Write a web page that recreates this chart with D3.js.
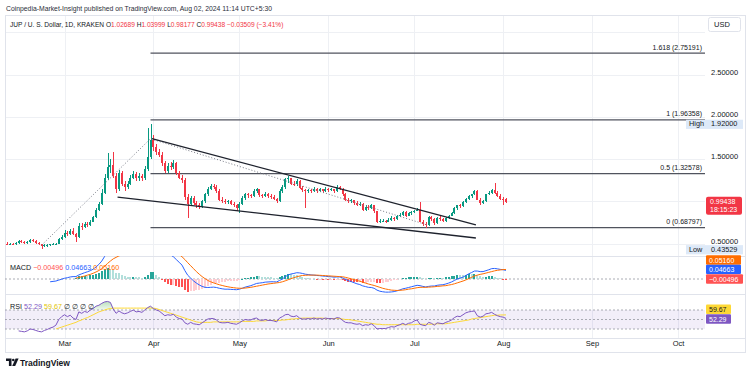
<!DOCTYPE html>
<html>
<head>
<meta charset="utf-8">
<title>JUP / U.S. Dollar</title>
<script src="https://cdn.jsdelivr.net/npm/d3@7"></script>
<style>
  body { margin: 0; background: #fff; }
  svg { display: block; font-family: "Liberation Sans", Arial, sans-serif; }
</style>
</head>
<body>
<script>
// JUP / U.S. Dollar, 1D, Kraken (Feb 10 .. Aug 02 2024)
var firstDay = "2024-02-10";
var lastDay = "2024-08-02";

var opens = [
  0.50,0.49,0.50,0.49,0.51,0.53,0.52,0.51,0.52,0.54,
  0.53,0.51,0.49,0.47,0.48,0.48,0.49,0.50,0.50,0.55,
  0.58,0.63,0.61,0.65,0.61,0.58,0.71,0.69,0.73,0.72,
  0.76,0.81,0.90,0.97,1.10,1.28,1.40,1.43,1.30,1.14,
  1.33,1.21,1.17,1.21,1.28,1.32,1.27,1.30,1.27,1.38,
  1.52,1.73,1.64,1.58,1.55,1.45,1.36,1.42,1.40,1.45,
  1.33,1.28,1.25,1.05,0.97,1.04,0.98,0.95,0.94,1.00,
  1.08,1.15,1.18,1.17,1.12,1.02,1.00,0.99,1.00,0.97,
  0.95,0.92,0.97,1.04,1.08,1.07,1.06,1.12,1.14,1.07,
  1.06,1.09,1.06,1.05,1.03,1.00,1.12,1.17,1.26,1.27,
  1.21,1.20,1.24,1.16,1.13,1.12,1.13,1.12,1.15,1.12,
  1.14,1.12,1.15,1.13,1.14,1.12,1.17,1.15,1.08,1.02,
  1.00,1.01,0.98,0.96,0.97,0.90,0.93,0.92,0.95,0.88,
  0.76,0.77,0.77,0.76,0.78,0.80,0.79,0.82,0.84,0.87,
  0.83,0.86,0.87,0.89,0.90,0.76,0.73,0.72,0.81,0.79,
  0.74,0.80,0.79,0.77,0.80,0.83,0.86,0.92,0.95,0.94,
  0.99,1.03,1.06,1.08,1.12,1.02,0.98,1.00,1.08,1.10,
  1.13,1.10,1.06,1.03,1.02689
];
var highs = [
  0.52,0.51,0.51,0.52,0.54,0.54,0.53,0.53,0.55,0.55,
  0.54,0.52,0.50,0.49,0.49,0.50,0.51,0.51,0.56,0.60,
  0.66,0.65,0.67,0.68,0.63,0.74,0.74,0.75,0.76,0.78,
  0.83,0.92,0.99,1.14,1.32,1.57,1.50,1.58,1.33,1.37,
  1.36,1.24,1.24,1.31,1.36,1.35,1.33,1.32,1.42,1.87,
  1.92,1.78,1.68,1.62,1.58,1.48,1.45,1.46,1.49,1.47,
  1.36,1.31,1.27,1.08,1.06,1.06,1.00,0.98,1.02,1.10,
  1.17,1.20,1.20,1.19,1.14,1.05,1.03,1.02,1.01,0.99,
  0.97,0.99,1.06,1.10,1.10,1.09,1.14,1.16,1.15,1.09,
  1.11,1.10,1.08,1.07,1.04,1.14,1.19,1.28,1.30,1.28,
  1.24,1.26,1.25,1.18,1.15,1.15,1.15,1.17,1.16,1.16,
  1.15,1.17,1.16,1.16,1.15,1.19,1.18,1.16,1.10,1.04,
  1.03,1.02,1.00,0.99,0.98,0.95,0.95,0.97,0.96,0.89,
  0.79,0.79,0.78,0.80,0.82,0.81,0.84,0.86,0.89,0.88,
  0.87,0.88,0.90,0.92,0.99,0.78,0.75,0.83,0.83,0.80,
  0.81,0.82,0.80,0.81,0.84,0.87,0.93,0.96,0.97,1.00,
  1.04,1.07,1.09,1.13,1.13,1.04,1.02,1.09,1.12,1.15,
  1.22,1.12,1.08,1.05,1.03999
];
var lows = [
  0.48,0.48,0.48,0.48,0.50,0.51,0.50,0.50,0.51,0.52,
  0.50,0.48,0.43529,0.46,0.46,0.47,0.48,0.48,0.49,0.54,
  0.57,0.59,0.60,0.60,0.52,0.57,0.66,0.68,0.70,0.71,
  0.75,0.80,0.88,0.95,1.08,1.25,1.33,1.27,1.10,1.12,
  1.18,1.12,1.15,1.19,1.26,1.24,1.24,1.24,1.25,1.36,
  1.50,1.60,1.55,1.52,1.42,1.33,1.34,1.37,1.38,1.31,
  1.26,1.22,1.02,0.80,0.94,0.96,0.92,0.91,0.92,0.98,
  1.06,1.13,1.14,1.10,1.00,0.98,0.97,0.97,0.95,0.93,
  0.89,0.86,0.95,1.02,1.04,1.04,1.05,1.10,1.05,1.04,
  1.05,1.04,1.03,1.01,0.98,0.99,1.10,1.15,1.22,1.19,
  1.18,1.18,1.14,1.11,0.92,1.10,1.10,1.11,1.10,1.11,
  1.10,1.11,1.11,1.12,1.10,1.11,1.13,1.06,1.00,0.98,
  0.98,0.96,0.94,0.94,0.88,0.89,0.90,0.91,0.86,0.74,
  0.74,0.75,0.74,0.75,0.77,0.77,0.78,0.81,0.83,0.81,
  0.82,0.84,0.86,0.88,0.75,0.71,0.68,0.71,0.77,0.72,
  0.73,0.77,0.75,0.76,0.79,0.82,0.85,0.90,0.92,0.93,
  0.98,1.02,1.04,1.07,1.01,0.96,0.97,0.99,1.07,1.09,
  1.09,1.05,1.02,0.95,0.98177
];
var closes = [
  0.49,0.50,0.49,0.51,0.53,0.52,0.51,0.52,0.54,0.53,
  0.51,0.49,0.47,0.48,0.48,0.49,0.50,0.50,0.55,0.58,
  0.63,0.61,0.65,0.61,0.58,0.71,0.69,0.73,0.72,0.76,
  0.81,0.90,0.97,1.10,1.28,1.40,1.43,1.30,1.14,1.33,
  1.21,1.17,1.21,1.28,1.32,1.27,1.30,1.27,1.38,1.52,
  1.73,1.64,1.58,1.55,1.45,1.36,1.42,1.40,1.45,1.33,
  1.28,1.25,1.05,0.97,1.04,0.98,0.95,0.94,1.00,1.08,
  1.15,1.18,1.17,1.12,1.02,1.00,0.99,1.00,0.97,0.95,
  0.92,0.97,1.04,1.08,1.07,1.06,1.12,1.14,1.07,1.06,
  1.09,1.06,1.05,1.03,1.00,1.12,1.17,1.26,1.27,1.21,
  1.20,1.24,1.16,1.13,1.12,1.13,1.12,1.15,1.12,1.14,
  1.12,1.15,1.13,1.14,1.12,1.17,1.15,1.08,1.02,1.00,
  1.01,0.98,0.96,0.97,0.90,0.93,0.92,0.95,0.88,0.76,
  0.77,0.77,0.76,0.78,0.80,0.79,0.82,0.84,0.87,0.83,
  0.86,0.87,0.89,0.90,0.76,0.73,0.72,0.81,0.79,0.74,
  0.80,0.79,0.77,0.80,0.83,0.86,0.92,0.95,0.94,0.99,
  1.03,1.06,1.08,1.12,1.02,0.98,1.00,1.08,1.10,1.13,
  1.10,1.06,1.03,1.02689,0.99438
];

// MACD (12, 26, 9) - one value per candle, null where the study has no value yet
var macdLine = [
  null,null,null,null,null,null,null,null,null,null,
  null,null,null,null,null,-0.015,-0.013,-0.011,-0.006,-0.001,
  0.004,0.007,0.011,0.013,0.013,0.022,0.028,0.034,0.039,0.045,
  0.053,0.065,0.079,0.097,0.122,0.146,0.15,0.155,0.15,0.155,
  0.152,0.148,0.147,0.15,0.155,0.155,0.157,0.156,0.165,0.18,
  0.205,0.215,0.205,0.195,0.18,0.165,0.15,0.13,0.12,0.105,
  0.09,0.075,0.045,0.02,0.005,-0.01,-0.022,-0.032,-0.04,-0.045,
  -0.046,-0.045,-0.044,-0.046,-0.05,-0.053,-0.055,-0.055,-0.056,-0.057,
  -0.058,-0.055,-0.05,-0.044,-0.04,-0.036,-0.03,-0.024,-0.022,-0.02,
  -0.017,-0.016,-0.015,-0.015,-0.016,-0.008,0.0,0.012,0.022,0.027,
  0.03,0.034,0.033,0.03,0.026,0.024,0.022,0.021,0.019,0.018,
  0.016,0.015,0.013,0.012,0.01,0.011,0.011,0.006,-0.002,-0.009,
  -0.014,-0.02,-0.026,-0.03,-0.037,-0.041,-0.045,-0.046,-0.05,-0.06,
  -0.066,-0.069,-0.071,-0.071,-0.07,-0.068,-0.064,-0.059,-0.053,-0.05,
  -0.046,-0.042,-0.038,-0.034,-0.036,-0.04,-0.043,-0.04,-0.038,-0.038,
  -0.034,-0.032,-0.031,-0.027,-0.022,-0.016,-0.008,0.0,0.005,0.01,
  0.019,0.028,0.035,0.043,0.043,0.04,0.04,0.045,0.05,0.056,
  0.057,0.055,0.052,0.05,0.04663
];
var signalLine = [
  null,null,null,null,null,null,null,null,null,null,
  null,null,null,null,null,null,null,null,null,null,
  null,null,null,null,0.005,0.008,0.012,0.016,0.021,0.025,
  0.031,0.038,0.046,0.056,0.069,0.084,0.097,0.109,0.117,0.125,
  0.13,0.134,0.136,0.139,0.142,0.145,0.147,0.149,0.152,0.158,
  0.168,0.177,0.183,0.185,0.184,0.18,0.175,0.165,0.155,0.145,
  0.132,0.12,0.105,0.088,0.072,0.056,0.04,0.026,0.013,0.002,
  -0.008,-0.015,-0.021,-0.026,-0.031,-0.035,-0.039,-0.042,-0.045,-0.047,
  -0.049,-0.05,-0.05,-0.049,-0.047,-0.045,-0.042,-0.039,-0.036,-0.033,
  -0.03,-0.027,-0.025,-0.023,-0.021,-0.019,-0.015,-0.01,-0.004,0.002,
  0.007,0.012,0.016,0.019,0.02,0.021,0.021,0.021,0.021,0.02,
  0.019,0.018,0.017,0.016,0.015,0.014,0.013,0.012,0.009,0.005,
  0.001,-0.003,-0.008,-0.012,-0.017,-0.022,-0.027,-0.031,-0.035,-0.04,
  -0.045,-0.05,-0.054,-0.057,-0.06,-0.061,-0.062,-0.061,-0.06,-0.058,
  -0.055,-0.053,-0.05,-0.047,-0.045,-0.045,-0.045,-0.044,-0.043,-0.042,
  -0.04,-0.039,-0.037,-0.036,-0.033,-0.03,-0.026,-0.021,-0.016,-0.011,
  -0.005,0.002,0.009,0.016,0.021,0.025,0.028,0.032,0.036,0.04,
  0.044,0.047,0.049,0.051,0.0516
];
var macdHist = [
  null,null,null,null,null,null,null,null,null,null,
  null,null,null,null,null,null,null,null,null,null,
  null,null,null,null,0.008,0.014,0.016,0.018,0.018,0.020,
  0.022,0.027,0.033,0.041,0.053,0.062,0.053,0.046,0.033,0.030,
  0.022,0.014,0.011,0.011,0.013,0.010,0.010,0.007,0.013,0.022,
  0.037,0.038,0.022,0.010,-0.004,-0.015,-0.025,-0.035,-0.035,-0.040,
  -0.042,-0.045,-0.060,-0.068,-0.067,-0.066,-0.062,-0.058,-0.053,-0.047,
  -0.038,-0.030,-0.023,-0.020,-0.019,-0.018,-0.016,-0.013,-0.011,-0.010,
  -0.009,-0.005,0.000,0.005,0.007,0.009,0.012,0.015,0.014,0.013,
  0.013,0.011,0.010,0.008,0.005,0.011,0.015,0.022,0.026,0.025,
  0.023,0.022,0.017,0.011,0.006,0.003,0.001,0.000,-0.002,-0.002,
  -0.003,-0.003,-0.004,-0.004,-0.005,-0.003,-0.002,-0.006,-0.011,-0.014,
  -0.015,-0.017,-0.018,-0.018,-0.020,-0.019,-0.018,-0.015,-0.015,-0.020,
  -0.021,-0.019,-0.017,-0.014,-0.010,-0.007,-0.002,0.002,0.007,0.008,
  0.009,0.011,0.012,0.013,0.009,0.005,0.002,0.004,0.005,0.004,
  0.006,0.007,0.006,0.009,0.011,0.014,0.018,0.021,0.021,0.021,
  0.024,0.026,0.026,0.027,0.022,0.015,0.012,0.013,0.014,0.016,
  0.013,0.008,0.003,-0.001,-0.00496
];

// RSI (14) and its moving average
var rsiLine = [
  null,null,null,null,26,25,24,26,30,29,
  27,25,24,27,29,32,34,38,50,56,
  60,56,59,53,50,66,63,67,65,70,
  73,78,80,84,87,88,86,72,63,68,
  64,62,64,67,70,66,67,65,70,75,
  78,73,70,68,63,58,60,59,61,55,
  52,51,43,40,44,41,40,39,43,47,
  51,52,52,49,44,43,43,44,42,41,
  40,43,47,50,49,49,52,53,49,48,
  50,48,48,47,45,53,56,60,61,57,
  56,58,53,51,51,52,51,53,51,52,
  51,53,52,52,51,54,53,48,44,43,
  43,41,40,41,37,39,38,41,37,30,
  31,31,31,33,35,34,37,39,42,39,
  42,43,47,49,40,38,37,44,42,38,
  43,42,41,44,46,49,54,57,56,60,
  64,66,67,68,58,55,57,62,63,65,
  61,58,56,55,52.29
];
var rsiMa = [
  null,null,null,null,null,null,null,null,null,null,
  null,null,null,null,null,null,null,30,32,34,
  36,38,40,42,44,47,49,52,54,57,
  60,63,66,68,70,72,73,74,74,74,
  74,74,74,74,74,74,74,74,74,74,
  74,74,73,71,69,67,65,63,61,59,
  57,55,53,51,49,47,45,44,44,44,
  44,44,45,45,45,45,45,45,45,45,
  45,45,46,46,46,46,46,47,47,47,
  47,48,48,48,48,48,49,49,50,51,
  51,52,52,53,53,53,53,53,53,53,
  53,52,52,52,52,52,52,51,50,50,
  49,48,47,46,45,44,43,42,41,40,
  40,39,39,39,39,39,39,39,39,39,
  39,39,39,40,40,40,40,40,40,40,
  41,41,41,41,42,43,44,45,46,47,
  48,49,51,52,53,54,55,56,57,58,
  59,59,59.5,59.6,59.67
];

// axes (1.00000 sits under the last-price tag, so it is not labelled)
var monthTicks = ["2024-03-01","2024-04-01","2024-05-01","2024-06-01","2024-07-01","2024-08-01","2024-09-01","2024-10-01"];
var priceTicks = [0.5, 1.5, 2.0, 2.5];
var priceGrid = [0.5, 1.0, 1.5, 2.0, 2.5, 3.0];

// drawings on the chart
var fibRatios = ["0", "0.5", "1", "1.618"];
var fibPrices = [0.68797, 1.32578, 1.96358, 2.75191];
var fibStart = "2024-03-31T00:00:00Z";
var wedgeUpper = [["2024-03-31T12:00:00Z", 1.74], ["2024-07-22T12:00:00Z", 0.72]];
var wedgeLower = [["2024-03-19T12:00:00Z", 1.05], ["2024-07-22T12:00:00Z", 0.565]];
var fibTrend = [["2024-02-22T00:00:00Z", 0.48], ["2024-03-31T00:00:00Z", 1.74], ["2024-07-05T12:00:00Z", 0.72]];

// layout
var W = 750, H = 372;
var left = 5, right = 705, edge = 745;
var mainTop = 15, mainBottom = 256, macdBottom = 294, rsiBottom = 338, axisBottom = 352;
var up = "#089981", down = "#f23645", ink = "#131722";

var parse = d3.utcParse("%Y-%m-%d");
var days = d3.utcDay.range(parse(firstDay), d3.utcDay.offset(parse(lastDay), 1));

var x = d3.scaleUtc().domain([parse("2024-03-01"), parse("2024-10-01")]).range([64.5, 678]);
var y = d3.scaleLinear().domain([0.5, 2.5]).range([243.5, 74.5]);
var yMacd = d3.scaleLinear().domain([0, 0.1]).range([279, 260.5]);
var yRsi = d3.scaleLinear().domain([30, 70]).range([329, 310]);

var candles = days.map(function(d, i) {
  return {date: d, o: opens[i], h: highs[i], l: lows[i], c: closes[i]};
});
function series(arr) {
  return days.map(function(d, i) { return {date: d, v: arr[i] == null ? null : arr[i]}; });
}

var svg = d3.select("body").append("svg").attr("width", W).attr("height", H);
var defs = svg.append("defs");
function clip(id, y0, y1) {
  defs.append("clipPath").attr("id", id).append("rect")
    .attr("x", left).attr("y", y0).attr("width", right - left).attr("height", y1 - y0);
}
clip("clipMain", mainTop, mainBottom);
clip("clipMacd", mainBottom, macdBottom);
clip("clipRsi", macdBottom, rsiBottom);

var grad = defs.append("linearGradient").attr("id", "obFill")
  .attr("gradientUnits", "userSpaceOnUse").attr("x1", 0).attr("x2", 0)
  .attr("y1", macdBottom).attr("y2", yRsi(70));
grad.append("stop").attr("offset", 0).attr("stop-color", "#4caf50").attr("stop-opacity", 0.65);
grad.append("stop").attr("offset", 1).attr("stop-color", "#4caf50").attr("stop-opacity", 0.08);

// grid
var grid = svg.append("g").attr("stroke", "#eef0f4").attr("shape-rendering", "crispEdges");
grid.selectAll(".vg").data(monthTicks.map(parse)).enter().append("line")
  .attr("x1", function(d) { return Math.round(x(d)) + 0.5; })
  .attr("x2", function(d) { return Math.round(x(d)) + 0.5; })
  .attr("y1", mainTop).attr("y2", rsiBottom);
grid.selectAll(".hg").data(priceGrid).enter().append("line")
  .attr("x1", left).attr("x2", right)
  .attr("y1", function(d) { return Math.round(y(d)) + 0.5; })
  .attr("y2", function(d) { return Math.round(y(d)) + 0.5; });

// frame and pane separators
var frame = svg.append("g").attr("stroke", "#e0e3eb").attr("fill", "none").attr("shape-rendering", "crispEdges");
frame.append("rect").attr("x", left + 0.5).attr("y", mainTop + 0.5)
  .attr("width", edge - left).attr("height", axisBottom - mainTop);
[mainBottom, macdBottom, rsiBottom].forEach(function(v) {
  frame.append("line").attr("x1", left).attr("x2", edge).attr("y1", v + 0.5).attr("y2", v + 0.5);
});

// fib retracement levels
var fib = svg.append("g");
fib.selectAll("line").data(fibPrices).enter().append("line")
  .attr("x1", x(d3.isoParse(fibStart))).attr("x2", right)
  .attr("y1", function(d) { return y(d); }).attr("y2", function(d) { return y(d); })
  .attr("stroke", "#50535e").attr("stroke-width", 1.3);
fib.selectAll("text").data(fibPrices).enter().append("text")
  .attr("x", right - 3).attr("y", function(d) { return y(d) - 3.5; })
  .attr("text-anchor", "end").attr("font-size", 7).attr("fill", ink)
  .text(function(d, i) { return fibRatios[i] + " (" + d.toFixed(5) + ")"; });

// candles
var gc = svg.append("g").attr("clip-path", "url(#clipMain)").attr("shape-rendering", "crispEdges");
var candle = gc.selectAll("g").data(candles).enter().append("g")
  .attr("fill", function(d) { return d.c >= d.o ? up : down; });
candle.append("rect")
  .attr("x", function(d) { return Math.round(x(d.date)) - 0.5; })
  .attr("width", 1)
  .attr("y", function(d) { return y(d.h); })
  .attr("height", function(d) { return y(d.l) - y(d.h); });
candle.append("rect")
  .attr("x", function(d) { return Math.round(x(d.date)) - 1; })
  .attr("width", 2)
  .attr("y", function(d) { return y(Math.max(d.o, d.c)); })
  .attr("height", function(d) { return Math.max(1, Math.abs(y(d.o) - y(d.c))); });

// trend lines
var pline = d3.line()
  .x(function(d) { return x(d3.isoParse(d[0])); })
  .y(function(d) { return y(d[1]); });
var gl = svg.append("g").attr("clip-path", "url(#clipMain)").attr("fill", "none");
gl.append("path").attr("d", pline(fibTrend))
  .attr("stroke", "#787b86").attr("stroke-width", 1).attr("stroke-dasharray", "1,2");
[wedgeUpper, wedgeLower].forEach(function(seg) {
  gl.append("path").attr("d", pline(seg)).attr("stroke", "#1e222d").attr("stroke-width", 1.3);
});

// header
svg.append("text").attr("x", 6).attr("y", 10.5).attr("font-size", 7).attr("fill", "#2a2e39")
  .attr("textLength", 266).attr("lengthAdjust", "spacingAndGlyphs")
  .text("Coinpedia-Market-Insight published on TradingView.com, Aug 02, 2024 11:14 UTC+5:30");
var legend = svg.append("text").attr("x", 10).attr("y", 27).attr("font-size", 6.6).attr("fill", ink);
legend.append("tspan").text("JUP / U. S. Dollar, 1D, KRAKEN  O");
legend.append("tspan").attr("fill", down).text("1.02689");
legend.append("tspan").text(" H");
legend.append("tspan").attr("fill", down).text("1.03999");
legend.append("tspan").text(" L");
legend.append("tspan").attr("fill", down).text("0.98177");
legend.append("tspan").text(" C");
legend.append("tspan").attr("fill", down).text("0.99438 \u22120.03509 (\u22123.41%)");

// price axis
var yAxis = d3.axisRight(y).tickValues(priceTicks).tickSize(0).tickPadding(6)
  .tickFormat(d3.format(".5f"));
var ga = svg.append("g").attr("transform", "translate(" + right + ",-2.5)").call(yAxis);
ga.attr("font-size", 7.5).attr("font-family", null);
ga.select(".domain").remove();
ga.selectAll("text").attr("fill", ink);

// USD button
svg.append("rect").attr("x", 708.5).attr("y", 17.5).attr("width", 32).attr("height", 14).attr("rx", 2)
  .attr("fill", "#fff").attr("stroke", "#e0e3eb");
svg.append("text").attr("x", 714).attr("y", 27).attr("font-size", 7.5).attr("fill", ink).text("USD");

// High / Low markers
function hiLo(label, value) {
  var cy = y(value);
  svg.append("rect").attr("x", 686).attr("y", cy - 3.8).attr("width", 57).attr("height", 9.2)
    .attr("fill", "#dde9f8");
  svg.append("text").attr("x", 689).attr("y", cy + 2.8).attr("font-size", 7.3).attr("fill", ink).text(label);
  svg.append("text").attr("x", 711).attr("y", cy + 2.8).attr("font-size", 7.3).attr("fill", ink)
    .text(d3.format(".5f")(value));
}
hiLo("High", d3.max(highs));
hiLo("Low", d3.min(lows));

// last price box
var last = closes[closes.length - 1];
svg.append("rect").attr("x", 706).attr("y", y(last) - 5).attr("width", 36).attr("height", 18).attr("rx", 2)
  .attr("fill", down);
svg.append("text").attr("x", 710).attr("y", y(last) + 2.5).attr("font-size", 7).attr("fill", "#fff")
  .text(d3.format(".5f")(last));
svg.append("text").attr("x", 710).attr("y", y(last) + 10.5).attr("font-size", 7).attr("fill", "#fff")
  .text("18:15:23");

// MACD pane
var gm = svg.append("g").attr("clip-path", "url(#clipMacd)");
gm.append("line").attr("x1", left).attr("x2", right).attr("y1", yMacd(0)).attr("y2", yMacd(0))
  .attr("stroke", "#9598a1").attr("stroke-dasharray", "2,2").attr("stroke-width", 0.8);
var hist = series(macdHist);
gm.append("g").attr("shape-rendering", "crispEdges").selectAll("rect")
  .data(hist.filter(function(d) { return d.v != null; })).enter().append("rect")
  .attr("x", function(d) { return Math.round(x(d.date)) - 1; })
  .attr("width", 2)
  .attr("y", function(d) { return Math.min(yMacd(d.v), yMacd(0)); })
  .attr("height", function(d) { return Math.max(0.5, Math.abs(yMacd(d.v) - yMacd(0))); })
  .attr("fill", function(d) {
    var i = days.indexOf(d.date), prev = i > 0 ? macdHist[i - 1] : null;
    if (d.v >= 0) return (prev == null || d.v > prev) ? "#26a69a" : "#b2dfdb";
    return (prev == null || d.v < prev) ? "#ff5252" : "#ffcdd2";
  });
var lm = d3.line().defined(function(d) { return d.v != null; })
  .x(function(d) { return x(d.date); }).y(function(d) { return yMacd(d.v); });
gm.append("path").attr("d", lm(series(macdLine))).attr("fill", "none").attr("stroke", "#2962ff").attr("stroke-width", 1);
gm.append("path").attr("d", lm(series(signalLine))).attr("fill", "none").attr("stroke", "#ff6d00").attr("stroke-width", 1);

var ml = svg.append("text").attr("x", 10).attr("y", 269.5).attr("font-size", 7.2).attr("fill", ink);
ml.append("tspan").text("MACD  ");
ml.append("tspan").attr("fill", "#ff5252").text("\u2212" + Math.abs(macdHist[macdHist.length - 1]).toFixed(5) + "  ");
ml.append("tspan").attr("fill", "#2962ff").text(macdLine[macdLine.length - 1].toFixed(5) + "  ");
ml.append("tspan").attr("fill", "#ff6d00").text(signalLine[signalLine.length - 1].toFixed(5));

function tag(cy, w, bg, fg, label) {
  svg.append("rect").attr("x", 706).attr("y", cy - 4.7).attr("width", w).attr("height", 9.4).attr("rx", 1).attr("fill", bg);
  svg.append("text").attr("x", 709).attr("y", cy + 2.5).attr("font-size", 7).attr("fill", fg).text(label);
}
tag(260, 35, "#ff6d00", "#fff", signalLine[signalLine.length - 1].toFixed(5));
tag(269.4, 35, "#2962ff", "#fff", macdLine[macdLine.length - 1].toFixed(5));
tag(279, 37, "#ff5252", "#fff", "\u2212" + Math.abs(macdHist[macdHist.length - 1]).toFixed(5));

// RSI pane
var gr = svg.append("g").attr("clip-path", "url(#clipRsi)");
gr.append("rect").attr("x", left).attr("width", right - left)
  .attr("y", yRsi(70)).attr("height", yRsi(30) - yRsi(70)).attr("fill", "rgba(126,87,194,0.1)");
[70, 50, 30].forEach(function(v) {
  gr.append("line").attr("x1", left).attr("x2", right).attr("y1", yRsi(v)).attr("y2", yRsi(v))
    .attr("stroke", "#9598a1").attr("stroke-dasharray", "2,2").attr("stroke-width", 0.8);
});
var rs = series(rsiLine);
var ob = d3.area().defined(function(d) { return d.v != null; })
  .x(function(d) { return x(d.date); })
  .y0(yRsi(70)).y1(function(d) { return yRsi(Math.max(70, d.v)); });
gr.append("path").attr("d", ob(rs)).attr("fill", "url(#obFill)");
var lr = d3.line().defined(function(d) { return d.v != null; })
  .x(function(d) { return x(d.date); }).y(function(d) { return yRsi(d.v); });
gr.append("path").attr("d", lr(series(rsiMa))).attr("fill", "none").attr("stroke", "#fdd835").attr("stroke-width", 1);
gr.append("path").attr("d", lr(rs)).attr("fill", "none").attr("stroke", "#7e57c2").attr("stroke-width", 1);

var rl = svg.append("text").attr("x", 10).attr("y", 308.5).attr("font-size", 7.2).attr("fill", ink);
rl.append("tspan").text("RSI  ");
rl.append("tspan").attr("fill", "#7e57c2").text(rsiLine[rsiLine.length - 1].toFixed(2) + "  ");
rl.append("tspan").attr("fill", "#e2c400").text(rsiMa[rsiMa.length - 1].toFixed(2) + "  ");
rl.append("tspan").text("\u2205  \u2205  \u2205  \u2205");

svg.append("rect").attr("x", 706).attr("y", 304.6).attr("width", 25).attr("height", 9.4).attr("rx", 1).attr("fill", "#fdd835");
svg.append("text").attr("x", 709).attr("y", 311.8).attr("font-size", 7).attr("fill", ink).text(rsiMa[rsiMa.length - 1].toFixed(2));
svg.append("rect").attr("x", 706).attr("y", 314.3).attr("width", 25).attr("height", 9.4).attr("rx", 1).attr("fill", "#7e57c2");
svg.append("text").attr("x", 709).attr("y", 321.5).attr("font-size", 7).attr("fill", "#fff").text(rsiLine[rsiLine.length - 1].toFixed(2));

// time axis
var xAxis = d3.axisBottom(x).tickValues(monthTicks.map(parse)).tickSize(0).tickPadding(3)
  .tickFormat(d3.utcFormat("%b"));
var gx = svg.append("g").attr("transform", "translate(0," + rsiBottom + ")").call(xAxis);
gx.attr("font-size", 7.5).attr("font-family", null);
gx.select(".domain").remove();
gx.selectAll("text").attr("fill", ink);

// TradingView logo
var logo = svg.append("g").attr("fill", ink);
logo.append("path").attr("d", "M6 358.5h5.5v7.5h-2.6v-4.9H6z");
logo.append("circle").attr("cx", 13.3).attr("cy", 360).attr("r", 1.3);
logo.append("path").attr("d", "M15.6 358.5h3l-3.4 7.5h-3z");
svg.append("text").attr("x", 20).attr("y", 365.5).attr("font-size", 8.5).attr("font-weight", 600)
  .attr("fill", ink).text("TradingView");
</script>
</body>
</html>
